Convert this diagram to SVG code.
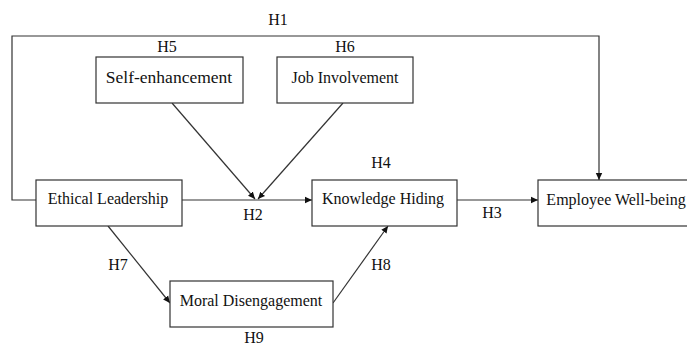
<svg xmlns="http://www.w3.org/2000/svg" width="687" height="345" viewBox="0 0 687 345">
<defs>
<marker id="ah" markerWidth="8" markerHeight="8" refX="7" refY="4" orient="auto" markerUnits="userSpaceOnUse">
<path d="M0,0.8 L7,4 L0,7.2 Z" fill="#111"/>
</marker>
<style>
.box{fill:#fff;stroke:#333;stroke-width:1.2}
.t{font-family:"Liberation Serif","Times New Roman",serif;font-size:16px;fill:#111;text-anchor:middle}
.big{font-size:17.5px}
.c{fill:none;stroke:#333;stroke-width:1.2}
</style>
</defs>
<rect width="687" height="345" fill="#fff"/>
<g id="connectors">
<polyline class="c" points="36,200 12,200 12,36 599,36 599,180" marker-end="url(#ah)"/>
<line class="c" x1="182" y1="200" x2="312" y2="200" marker-end="url(#ah)"/>
<line class="c" x1="172" y1="103" x2="255" y2="199" marker-end="url(#ah)"/>
<line class="c" x1="343" y1="103" x2="258" y2="199" marker-end="url(#ah)"/>
<line class="c" x1="457" y1="200" x2="538" y2="200" marker-end="url(#ah)"/>
<line class="c" x1="108" y1="226" x2="170" y2="303" marker-end="url(#ah)"/>
<line class="c" x1="333" y1="303" x2="388" y2="226" marker-end="url(#ah)"/>
</g>
<g id="labels">
<text class="t" x="278" y="25">H1</text>
<text class="t" x="167" y="52">H5</text>
<text class="t" x="345" y="52">H6</text>
<text class="t" x="253" y="220">H2</text>
<text class="t" x="381" y="168">H4</text>
<text class="t" x="492" y="218">H3</text>
<text class="t" x="118" y="270">H7</text>
<text class="t" x="381" y="270">H8</text>
<text class="t" x="254" y="343">H9</text>
</g>
<g id="self-enhancement">
<rect class="box" x="96" y="57" width="147" height="46"/>
<text class="t big" x="169" y="83">Self-enhancement</text>
</g>
<g id="job-involvement">
<rect class="box" x="277" y="57" width="136" height="46"/>
<text class="t" x="345" y="83">Job Involvement</text>
</g>
<g id="ethical-leadership">
<rect class="box" x="36" y="180" width="146" height="46"/>
<text class="t" x="108" y="204">Ethical Leadership</text>
</g>
<g id="knowledge-hiding">
<rect class="box" x="312" y="180" width="145" height="46"/>
<text class="t" x="383" y="204">Knowledge Hiding</text>
</g>
<g id="employee-well-being">
<rect class="box" x="538" y="180" width="154" height="46"/>
<text class="t" x="616" y="205">Employee Well-being</text>
</g>
<g id="moral-disengagement">
<rect class="box" x="170" y="281" width="163" height="46"/>
<text class="t" x="251" y="306">Moral Disengagement</text>
</g>
</svg>
